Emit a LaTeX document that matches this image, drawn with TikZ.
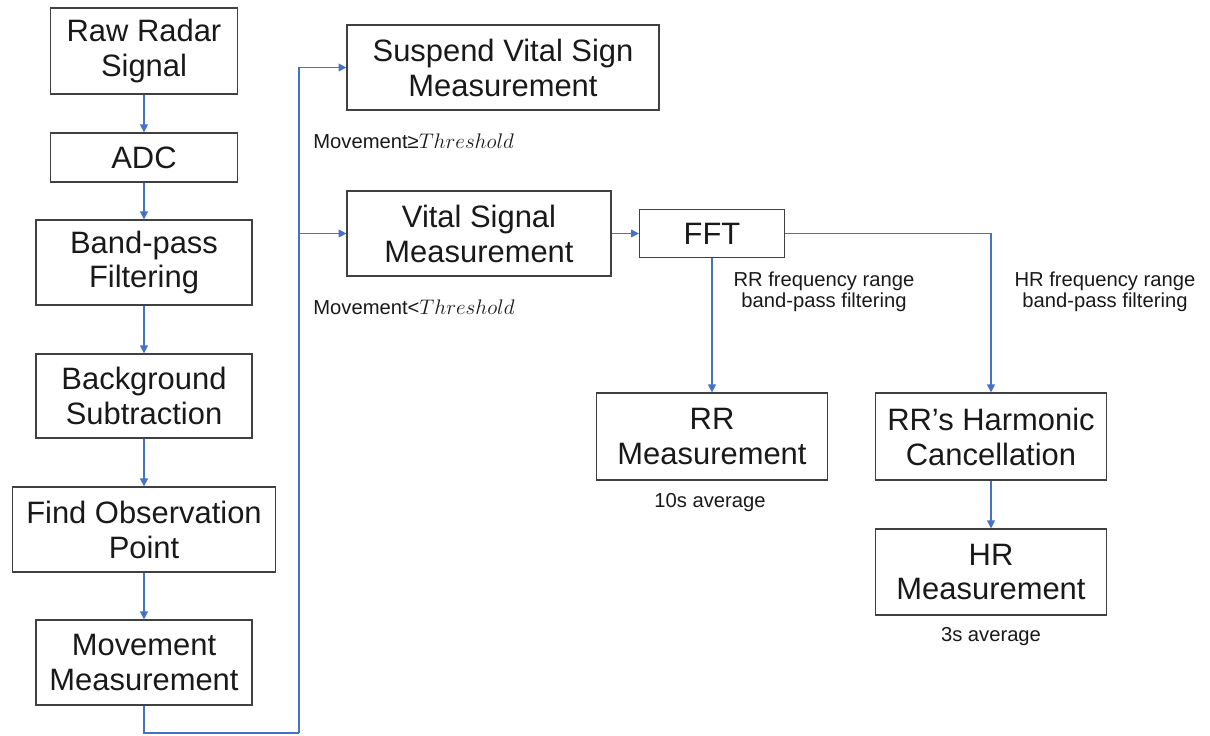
\documentclass[tikz,border=0pt]{standalone}
\usepackage{fontspec}
\setmainfont{Liberation Sans}
\usepackage{tikz}
\usetikzlibrary{arrows.meta, positioning}
\definecolor{flowblue}{HTML}{4472C4}
\definecolor{boxgray}{HTML}{404040}

\begin{document}
\begin{tikzpicture}[
  x=0.02cm, y=-0.02cm,
  blk/.style={draw=boxgray, line width=0.7pt, inner sep=0pt, align=center,
    font=\fontsize{17.6}{19.9}\selectfont, text=black!90},
  lbl/.style={inner sep=0pt, align=center, font=\fontsize{11.5}{12}\selectfont, text=black!90},
  flow/.style={draw=flowblue, line width=0.6pt, -{Triangle[width=4.5pt,length=4.5pt]}},
  wire/.style={draw=flowblue, line width=0.6pt}]

  \useasboundingbox (0,0) rectangle (1210,736);

  % left column
  \node[blk, minimum width=3.74cm, minimum height=1.72cm] (raw) at (144,51) {Raw Radar\\Signal};
  \node[blk, minimum width=3.74cm, minimum height=0.98cm] (adc) at (144,157.5) {ADC};
  \node[blk, minimum width=4.32cm, minimum height=1.70cm] (bpf) at (144,262.5) {Band-pass\\Filtering};
  \node[blk, minimum width=4.32cm, minimum height=1.68cm] (bgs) at (144,396) {Background\\Subtraction};
  \node[blk, minimum width=5.26cm, minimum height=1.70cm] (fop) at (144,529.5) {Find Observation\\Point};
  \node[blk, minimum width=4.32cm, minimum height=1.70cm] (mov) at (144,662.5) {Movement\\Measurement};

  % middle
  \node[blk, minimum width=6.24cm, minimum height=1.70cm] (susp) at (503,67.5) {Suspend Vital Sign\\Measurement};
  \node[blk, minimum width=5.28cm, minimum height=1.70cm] (vital) at (479,233.5) {Vital Signal\\Measurement};
  \node[lbl, anchor=west] (ge) at (313,141) {Movement≥$Threshold$};
  \node[lbl, anchor=west] (lt) at (313,307) {Movement<$Threshold$};

  % right part
  \node[blk, minimum width=2.90cm, minimum height=0.96cm] (fft) at (712,233.5) {FFT};
  \node[blk, minimum width=4.62cm, minimum height=1.74cm] (rr) at (712,436.5) {RR\\Measurement};
  \node[blk, minimum width=4.62cm, minimum height=1.74cm] (harm) at (991,436.5) {RR’s Harmonic\\Cancellation};
  \node[blk, minimum width=4.62cm, minimum height=1.72cm] (hr) at (991,572) {HR\\Measurement};
  \node[lbl] (rrband) at (824,292) {RR frequency range\\band-pass filtering};
  \node[lbl] (hrband) at (1105,292) {HR frequency range\\band-pass filtering};
  \node[lbl] (rravg) at (710,503) {10s average};
  \node[lbl] (hravg) at (991,637) {3s average};

  \coordinate (bus) at (299,733);

  \draw[flow] (raw) -- (adc);
  \draw[flow] (adc) -- (bpf);
  \draw[flow] (bpf) -- (bgs);
  \draw[flow] (bgs) -- (fop);
  \draw[flow] (fop) -- (mov);
  \draw[wire] (mov.south) |- (bus);
  \draw[flow] (bus) |- (susp.west);
  \draw[flow] (bus) |- (vital.west);
  \draw[flow] (vital) -- (fft);
  \draw[flow] (fft) -- (rr);
  \draw[flow] (fft.east) -| (harm.north);
  \draw[flow] (harm) -- (hr);
\end{tikzpicture}
\end{document}
